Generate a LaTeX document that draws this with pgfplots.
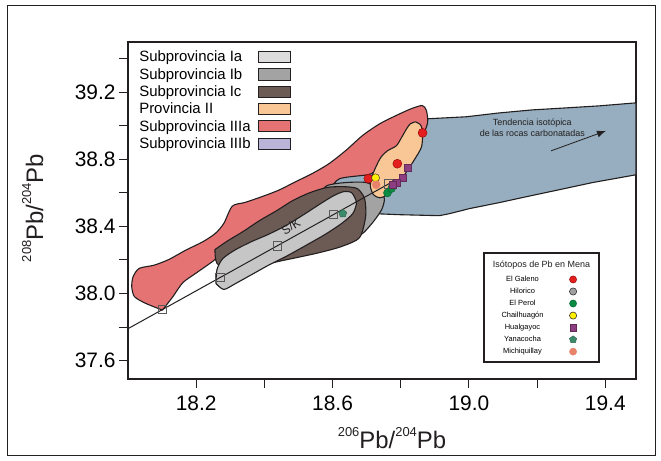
\documentclass[border=0pt]{standalone}
\usepackage{fontspec}
\setmainfont{Liberation Sans}
\usepackage{pgfplots}
\pgfplotsset{compat=1.18}
\usetikzlibrary{arrows.meta}

\definecolor{cIa}{RGB}{198,198,198}
\definecolor{cIaL}{RGB}{220,220,220}
\definecolor{cIb}{RGB}{163,163,163}
\definecolor{cIc}{RGB}{108,90,84}
\definecolor{cII}{RGB}{249,198,150}
\definecolor{cIIIa}{RGB}{230,115,116}
\definecolor{cIIIb}{RGB}{186,180,216}
\definecolor{cblue}{RGB}{150,174,191}
\definecolor{edge}{RGB}{35,31,32}
\definecolor{mred}{RGB}{228,30,30}
\definecolor{mgray}{RGB}{160,160,160}
\definecolor{mgreen}{RGB}{10,138,66}
\definecolor{myellow}{RGB}{255,238,0}
\definecolor{mpurple}{RGB}{141,62,128}
\definecolor{mteal}{RGB}{59,139,107}
\definecolor{msalmon}{RGB}{232,130,106}

\begin{document}
\begin{tikzpicture}
\useasboundingbox (0bp,0bp) rectangle (661bp,461bp);
\draw[line width=1bp, edge] (7bp,5bp) rectangle (655bp,455bp);
\begin{axis}[
  at={(128bp,82bp)}, anchor=south west, scale only axis,
  width=508bp, height=337bp,
  xmin=18.0, xmax=19.49, ymin=37.49, ymax=39.5,
  axis line style={line width=1.1bp, edge},
  xtick={18.2,18.4,18.6,18.8,19.0,19.2,19.4},
  xticklabels={18.2,,18.6,,19.0,,19.4},
  ytick={37.6,37.8,38.0,38.2,38.4,38.6,38.8,39.0,39.2,39.4},
  yticklabels={37.6,,38.0,,38.4,,38.8,,39.2,},
  tick align=outside, xtick pos=bottom, ytick pos=left,
  major tick length=9bp, tick style={edge, line width=1bp},
  tick label style={font=\fontsize{21}{24}\selectfont},
  xticklabel style={yshift=-4bp},
  legend plot pos=right, legend cell align=left,
  legend image code/.code={\draw[#1] (0bp,-5.5bp) rectangle (32bp,5.5bp);},
  legend style={at={(rel axis cs:0.014,0.983)}, anchor=north west, draw=none, fill=none,
     font=\fontsize{15}{17}\selectfont, row sep=3bp, column sep=6bp,
     nodes={inner sep=1bp}},
]
\addlegendimage{fill=cIaL, draw=edge, line width=0.8bp}
\addlegendentry{Subprovincia Ia}
\addlegendimage{fill=cIb, draw=edge, line width=0.8bp}
\addlegendentry{Subprovincia Ib}
\addlegendimage{fill=cIc, draw=edge, line width=0.8bp}
\addlegendentry{Subprovincia Ic}
\addlegendimage{fill=cII, draw=edge, line width=0.8bp}
\addlegendentry{Provincia II}
\addlegendimage{fill=cIIIa, draw=edge, line width=0.8bp}
\addlegendentry{Subprovincia IIIa}
\addlegendimage{fill=cIIIb, draw=edge, line width=0.8bp}
\addlegendentry{Subprovincia IIIb}

% carbonate trend (blue)
\addplot[forget plot, fill=cblue, draw=edge, line width=1.1bp, line join=round] coordinates {
(18.878,39.042) (18.992,39.054) (19.089,39.077) (19.186,39.095) (19.285,39.107)
(19.382,39.119) (19.49,39.137) (19.49,38.708) (19.361,38.661) (19.265,38.619)
(19.168,38.577) (19.089,38.542) (19.001,38.506) (18.943,38.476) (18.913,38.464)
(18.796,38.470) (18.723,38.476) (18.700,38.58) (18.60,38.643) (18.62,38.70)
(18.70,38.75) (18.80,38.86)} -- cycle;

% Subprovincia IIIa (red)
\addplot[forget plot, smooth, tension=0.45, fill=cIIIa, draw=edge, line width=1.1bp, line join=round] coordinates {
(18.101,37.901) (18.052,37.941) (18.019,37.981) (18.011,38.040) (18.015,38.100)
(18.033,38.150) (18.077,38.169) (18.120,38.203) (18.170,38.259) (18.219,38.308)
(18.256,38.358) (18.281,38.418) (18.306,38.521) (18.343,38.543) (18.392,38.577)
(18.442,38.616) (18.491,38.666) (18.541,38.716) (18.590,38.775) (18.640,38.855)
(18.689,38.944) (18.739,39.013) (18.788,39.063) (18.832,39.103) (18.863,39.121)
(18.875,39.093) (18.879,39.023) (18.867,38.958) (18.826,38.857) (18.767,38.768)
(18.723,38.726) (18.703,38.708) (18.621,38.685) (18.588,38.619) (18.539,38.565)
(18.489,38.518) (18.442,38.458) (18.392,38.399) (18.343,38.333) (18.299,38.280)
(18.261,38.232) (18.255,38.202) (18.202,38.125) (18.161,38.065) (18.132,37.982)
(18.101,37.901)} -- cycle;

% Subprovincia Ib
\addplot[forget plot, smooth, tension=0.45, fill=cIb, draw=edge, line width=1.1bp, line join=round] coordinates {
(18.562,38.589) (18.583,38.643) (18.635,38.661) (18.700,38.661) (18.744,38.607)
(18.752,38.560) (18.744,38.5) (18.720,38.429) (18.691,38.363) (18.665,38.333)
(18.640,38.36) (18.60,38.50) (18.562,38.589)} -- cycle;

% Subprovincia Ic
\addplot[forget plot, smooth, tension=0.45, fill=cIc, draw=edge, line width=1.1bp, line join=round] coordinates {
(18.255,38.262) (18.293,38.315) (18.337,38.369) (18.386,38.435) (18.436,38.494)
(18.483,38.554) (18.533,38.601) (18.585,38.633) (18.635,38.637) (18.673,38.625)
(18.694,38.565) (18.697,38.458) (18.679,38.333) (18.626,38.280) (18.562,38.244)
(18.495,38.214) (18.439,38.190) (18.372,38.155) (18.304,38.137) (18.261,38.179)
(18.255,38.262)} -- cycle;

% Subprovincia Ia
\addplot[forget plot, smooth, tension=0.45, fill=cIa, draw=edge, line width=1.1bp, line join=round] coordinates {
(18.258,38.060) (18.261,38.143) (18.278,38.208) (18.316,38.262) (18.363,38.310)
(18.410,38.351) (18.463,38.405) (18.515,38.470) (18.565,38.536) (18.603,38.583)
(18.632,38.607) (18.656,38.601) (18.670,38.542) (18.659,38.476) (18.626,38.417)
(18.577,38.351) (18.521,38.286) (18.468,38.226) (18.416,38.173) (18.363,38.113)
(18.316,38.060) (18.281,38.024) (18.258,38.060)} -- cycle;

% Provincia II
\addplot[forget plot, smooth, tension=0.45, fill=cII, draw=edge, line width=1.1bp, line join=round] coordinates {
(18.843,39.024) (18.858,39.006) (18.864,38.964) (18.861,38.875) (18.840,38.798)
(18.817,38.726) (18.790,38.649) (18.761,38.589) (18.738,38.571) (18.720,38.589)
(18.711,38.637) (18.714,38.690) (18.726,38.750) (18.741,38.810) (18.761,38.851)
(18.787,38.881) (18.802,38.929) (18.817,38.982) (18.828,39.012) (18.843,39.024)} -- cycle;

% S/K growth curve
\addplot[forget plot, edge, line width=1bp] coordinates {(18.0,37.79) (18.78,38.671)};
\addplot[forget plot, only marks, mark=square, mark size=4.2bp, draw=black!65, line width=0.8bp] coordinates {
(18.101,37.904) (18.270,38.095) (18.438,38.285) (18.603,38.471) (18.764,38.653)};
\node[rotate=31, font=\fontsize{12}{12}\selectfont, text=edge] at (axis cs:18.478,38.40) {S/K};

% ore samples
\addplot[forget plot, only marks, mark=*, mark size=4.5bp, fill=mred, draw=red!55!black, line width=0.4bp] coordinates {
(18.864,38.958) (18.790,38.774) (18.705,38.685)};
\addplot[forget plot, only marks, mark=*, mark size=4bp, fill=myellow, draw=edge, line width=0.4bp] coordinates {
(18.726,38.690)};
\addplot[forget plot, only marks, mark=*, mark size=4bp, fill=msalmon, draw=msalmon, line width=0.4bp] coordinates {
(18.728,38.649)};
\addplot[forget plot, only marks, mark=*, mark size=4bp, fill=mgreen, draw=mgreen!70!black, line width=0.4bp] coordinates {
(18.761,38.600) (18.773,38.626)};
\addplot[forget plot, only marks, mark=square*, mark size=3.5bp, fill=mpurple, draw=mpurple!70!black, line width=0.4bp] coordinates {
(18.820,38.750) (18.805,38.690) (18.787,38.660) (18.775,38.648)};
\addplot[forget plot, only marks, mark=pentagon*, mark size=4.2bp, fill=mteal, draw=mteal!70!black, line width=0.4bp] coordinates {
(18.630,38.477)};

% carbonate trend annotation
\node[align=center, font=\fontsize{9}{11}\selectfont, text=edge] at (axis cs:19.186,38.99) {Tendencia isotópica\\de las rocas carbonatadas};
\draw[edge, line width=0.8bp, -{Latex[length=9bp,width=7bp]}] (axis cs:19.241,38.851) -- (axis cs:19.402,38.970);
\end{axis}

% ore legend frame
\draw[edge, line width=1.2bp, fill=white] (484bp,99bp) rectangle (599bp,208bp);
\node[font=\fontsize{9}{11}\selectfont, text=edge] at (541.5bp,196bp) {Isótopos de Pb en Mena};

\begin{axis}[
  at={(128bp,82bp)}, anchor=south west, scale only axis,
  width=508bp, height=337bp, xmin=0, xmax=1, ymin=0, ymax=1, hide axis,
  legend plot pos=right, legend cell align=center,
  legend image code/.code={\draw[#1] plot coordinates {(4bp,0bp)};},
  legend style={at={(rel axis cs:0.727,0.315)}, anchor=north west, draw=none, fill=none,
     font=\fontsize{7.5}{9}\selectfont, row sep=3.1bp, column sep=25bp,
     nodes={inner sep=1bp}},
]
\addlegendimage{only marks, mark=*, mark size=3.6bp, fill=mred, draw=red!55!black, line width=0.4bp}
\addlegendentry{El Galeno}
\addlegendimage{only marks, mark=*, mark size=3.6bp, fill=mgray, draw=edge, line width=0.5bp}
\addlegendentry{Hilorico}
\addlegendimage{only marks, mark=*, mark size=3.6bp, fill=mgreen, draw=mgreen!70!black, line width=0.4bp}
\addlegendentry{El Perol}
\addlegendimage{only marks, mark=*, mark size=3.6bp, fill=myellow, draw=edge, line width=0.5bp}
\addlegendentry{Chailhuagón}
\addlegendimage{only marks, mark=square*, mark size=3.3bp, fill=mpurple, draw=mpurple!70!black, line width=0.4bp}
\addlegendentry{Hualgayoc}
\addlegendimage{only marks, mark=pentagon*, mark size=3.8bp, fill=mteal, draw=mteal!70!black, line width=0.4bp}
\addlegendentry{Yanacocha}
\addlegendimage{only marks, mark=*, mark size=3.6bp, fill=msalmon, draw=msalmon, line width=0.4bp}
\addlegendentry{Michiquillay}
\end{axis}

% axis titles
\node[anchor=base, font=\fontsize{24}{28}\selectfont, text=edge] at (392bp,13bp)
  {\raisebox{12bp}{\fontsize{13}{13}\selectfont 206}Pb/\raisebox{12bp}{\fontsize{13}{13}\selectfont 204}Pb};
\node[anchor=base, rotate=90, font=\fontsize{24}{28}\selectfont, text=edge] at (43bp,253bp)
  {\raisebox{12bp}{\fontsize{13}{13}\selectfont 208}Pb/\raisebox{12bp}{\fontsize{13}{13}\selectfont 204}Pb};
\end{tikzpicture}
\end{document}
